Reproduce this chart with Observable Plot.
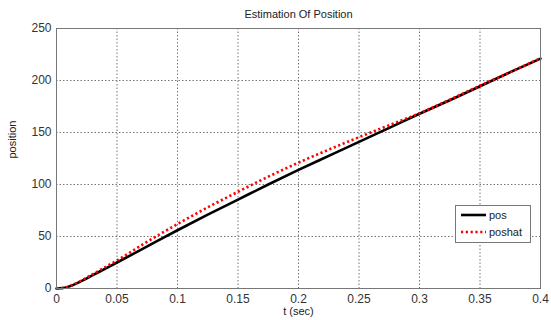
<!DOCTYPE html>
<html><head><meta charset="utf-8">
<script src="https://cdn.jsdelivr.net/npm/d3@7"></script>
<script src="https://cdn.jsdelivr.net/npm/@observablehq/plot@0.6"></script>
<style>
body{margin:0;background:#fff;font-family:"Liberation Sans",Arial,sans-serif;}
#wrap{position:relative;width:551px;height:320px;}
#legend{position:absolute;left:455px;top:205px;width:74px;height:36px;border:1px solid #777;background:#fff;font-size:11px;color:#222;}
#legend div{display:flex;align-items:center;height:16px;margin-top:1px;}
#legend svg{margin:0 3px 0 4px;}
</style></head>
<body><div id="wrap"><div id="legend"></div></div>
<script>
const t =      [0, 0.005, 0.01, 0.02, 0.03, 0.04, 0.05, 0.075, 0.1, 0.125, 0.15, 0.175, 0.2, 0.225, 0.25, 0.275, 0.3, 0.325, 0.35, 0.375, 0.4];
const pos =    [0, 0.4,   1.8,  6.8,  12.8, 18.9, 25,   40.5,  56,  71,    85.5, 100,   114, 127.5, 141,  154.5, 168, 181,   194.5, 208,  221];
const poshat = [0, 0.4,   1.9,  7.4,  13.8, 20.4, 27,   45,    62,  78,    93,   107.5, 121, 133.5, 145.5, 157,  168.5, 181.5, 195,  208,  221.5];
const xTicks = [0, 0.05, 0.1, 0.15, 0.2, 0.25, 0.3, 0.35, 0.4];
const yTicks = [0, 50, 100, 150, 200, 250];
const titleText = "Estimation Of Position";
const xLabel = "t (sec)";
const yLabel = "position";
const seriesNames = ["pos", "poshat"];

const rows = t.map((v, i) => ({t: v, pos: pos[i], poshat: poshat[i]}));
const dash = "2.2,2.6";

const chart = Plot.plot({
  width: 551, height: 320,
  marginLeft: 56, marginRight: 11, marginTop: 28, marginBottom: 32,
  style: {fontFamily: "Liberation Sans, Arial, sans-serif", fontSize: "11px", color: "#333", background: "#fff"},
  x: {domain: [0, 0.4], ticks: xTicks, tickFormat: d => String(d), label: null},
  y: {domain: [0, 250], ticks: yTicks, label: null},
  marks: [
    Plot.gridX(xTicks, {stroke: "#777", strokeOpacity: 1, strokeDasharray: "1.5,2", strokeWidth: 1}),
    Plot.gridY(yTicks, {stroke: "#777", strokeOpacity: 1, strokeDasharray: "1.5,2", strokeWidth: 1}),
    Plot.axisX(xTicks, {tickSize: 0, tickPadding: 6, fontSize: 12, fill: "#333", tickFormat: d => String(d), label: null}),
    Plot.axisY(yTicks, {tickSize: 0, tickPadding: 5, fontSize: 12, fill: "#333", label: null}),
    Plot.line(rows, {x: "t", y: "pos", stroke: "#000", strokeWidth: 2.6, curve: "monotone-x"}),
    Plot.line(rows, {x: "t", y: "poshat", stroke: "#ff0000", strokeWidth: 2.6, strokeDasharray: dash, strokeLinecap: "butt", curve: "monotone-x"}),
    Plot.frame({stroke: "#777", strokeWidth: 1}),
    Plot.text([titleText], {frameAnchor: "top", dy: -18, fontSize: 11, fill: "#222", text: d => d}),
    Plot.text([xLabel], {frameAnchor: "bottom", dy: 26, fontSize: 11, fill: "#222", text: d => d}),
    Plot.text([yLabel], {frameAnchor: "left", dx: -44, rotate: -90, fontSize: 11, fill: "#222", text: d => d})
  ]
});
document.getElementById("wrap").prepend(chart);

const leg = document.getElementById("legend");
const styles = [{stroke: "#000", dash: null}, {stroke: "#ff0000", dash: dash}];
seriesNames.forEach((name, i) => {
  const row = document.createElement("div");
  const s = d3.create("svg").attr("width", 26).attr("height", 8);
  s.append("line").attr("x1", 1).attr("x2", 26).attr("y1", 4).attr("y2", 4)
    .attr("stroke", styles[i].stroke).attr("stroke-width", 2.6)
    .attr("stroke-dasharray", styles[i].dash);
  row.appendChild(s.node());
  const sp = document.createElement("span"); sp.textContent = name;
  row.appendChild(sp);
  leg.appendChild(row);
});
</script></body></html>
